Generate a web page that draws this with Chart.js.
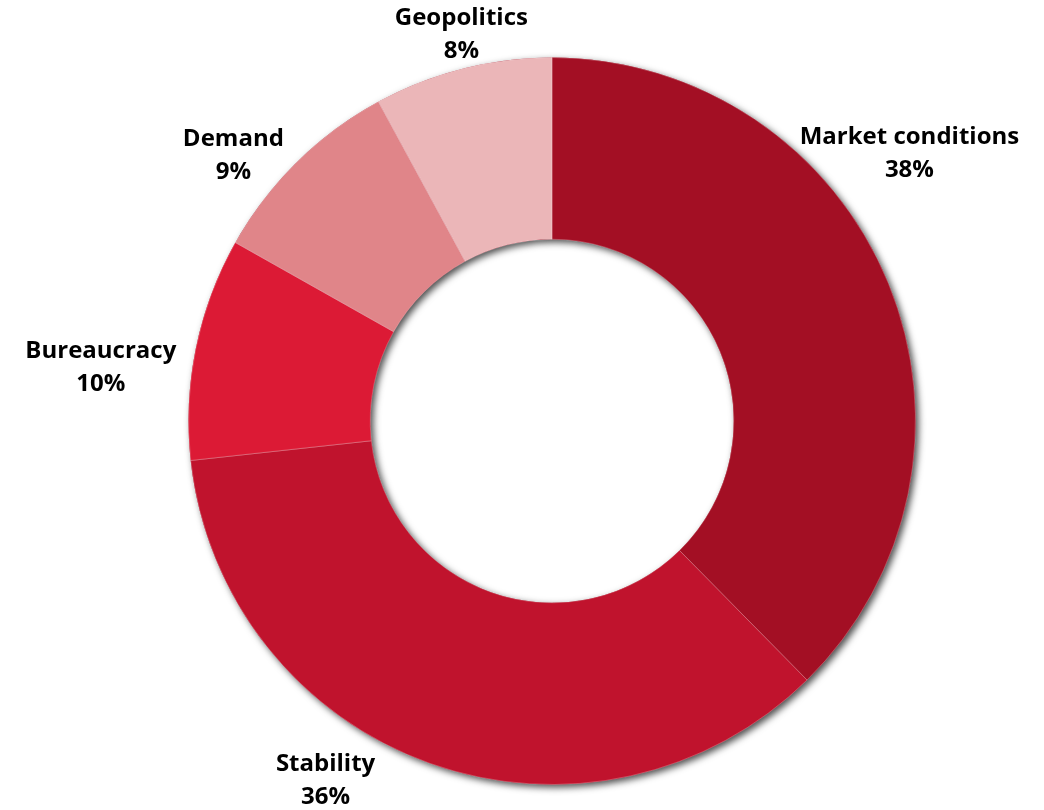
<!DOCTYPE html>
<html>
<head>
<meta charset="utf-8">
<title>Doughnut</title>
<script src="https://cdn.jsdelivr.net/npm/chart.js@4/dist/chart.umd.min.js"></script>
<style>
  html, body { margin: 0; padding: 0; background: #fff; }
  #wrap { width: 1044px; height: 810px; }
</style>
</head>
<body>
<div id="wrap"><canvas id="chart" width="1044" height="810"></canvas></div>
<script>
// data
const categories = ['Market conditions', 'Stability', 'Bureaucracy', 'Demand', 'Geopolitics'];
const shares = [38, 36, 10, 9, 8];
const sliceColors = ['#A30F24', '#C0132D', '#DC1A35', '#E08589', '#EBB6B8'];

// where each label sits: angle in degrees (0 = right, clockwise) and distance as multiple of outer radius
const labelAngles = [-36.8, 122.2, 186.8, 219.8, 256.8];
const labelDist = [1.228, 1.169, 1.25, 1.141, 1.092];

// soft shadow under the whole ring
const ringShadow = {
  id: 'ringShadow',
  beforeDatasetsDraw(chart) {
    const arc = chart.getDatasetMeta(0).data[0];
    if (!arc) return;
    const { x, y, outerRadius, innerRadius } = arc.getProps(['x', 'y', 'outerRadius', 'innerRadius'], true);
    const ctx = chart.ctx;
    ctx.save();
    ctx.shadowColor = 'rgba(0,0,0,0.7)';
    ctx.shadowBlur = 7;
    ctx.shadowOffsetX = 3;
    ctx.shadowOffsetY = 3;
    ctx.beginPath();
    ctx.arc(x, y, outerRadius, 0, Math.PI * 2);
    ctx.arc(x, y, innerRadius, 0, Math.PI * 2, true);
    ctx.fillStyle = '#A30F24';
    ctx.fill('evenodd');
    ctx.restore();
  }
};

// category + percent labels outside the ring
const outerLabels = {
  id: 'outerLabels',
  afterDatasetsDraw(chart) {
    const meta = chart.getDatasetMeta(0);
    const ctx = chart.ctx;
    ctx.save();
    ctx.font = 'bold 24px "Open Sans"';
    ctx.fillStyle = '#000';
    ctx.textAlign = 'center';
    ctx.textBaseline = 'middle';
    meta.data.forEach((arc, i) => {
      const { x, y, outerRadius } = arc.getProps(['x', 'y', 'outerRadius'], true);
      const a = labelAngles[i] * Math.PI / 180;
      const r = outerRadius * labelDist[i];
      const lx = x + Math.cos(a) * r;
      const ly = y + Math.sin(a) * r;
      ctx.fillText(categories[i], lx, ly - 16.5);
      ctx.fillText(shares[i] + '%', lx, ly + 16.5);
    });
    ctx.restore();
  }
};

new Chart(document.getElementById('chart'), {
  type: 'doughnut',
  data: {
    labels: categories,
    datasets: [{
      data: shares,
      backgroundColor: sliceColors,
      borderColor: 'rgba(255,255,255,0.25)',
      borderWidth: 1
    }]
  },
  options: {
    responsive: false,
    animation: false,
    cutout: '50%',
    layout: { padding: { left: 100, right: 40, top: 57, bottom: 25 } },
    plugins: {
      legend: { display: false },
      tooltip: { enabled: false }
    }
  },
  plugins: [ringShadow, outerLabels]
});
</script>
</body>
</html>
